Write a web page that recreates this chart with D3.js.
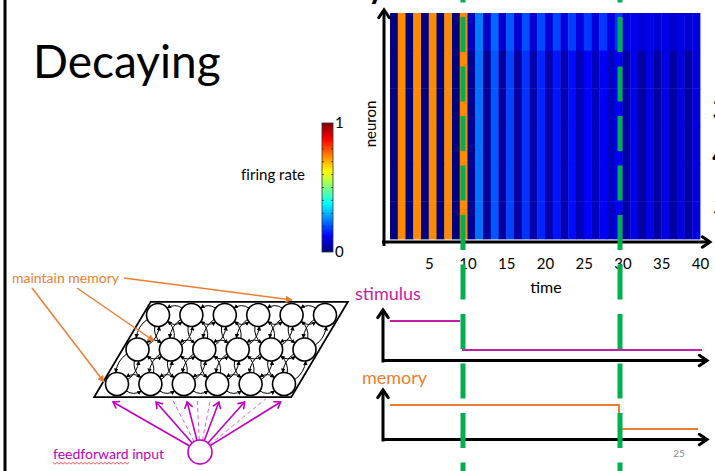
<!DOCTYPE html>
<html>
<head>
<meta charset="utf-8">
<script src="https://cdn.jsdelivr.net/npm/d3@7/dist/d3.min.js"></script>
<style>
  body { margin: 0; background: #fff; overflow: hidden; }
  svg { display: block; }
  text { font-family: Lato, "Open Sans", sans-serif; }
</style>
</head>
<body>
<svg id="chart"></svg>
<script>
// firing rate per time step (1..40)
const topNeuron = [
    0, 0.74, 0, 0.74, 0, 0.74, 0, 0.74, 0, 0.74,
    0.06, 0.245, 0.07, 0.225, 0.075, 0.21, 0.08, 0.2, 0.085, 0.195,
    0.085, 0.19, 0.09, 0.185, 0.09, 0.18, 0.09, 0.18, 0.095, 0.175,
    0.09, 0.11, 0.085, 0.105, 0.085, 0.1, 0.08, 0.1, 0.08, 0.095
];
const otherNeurons = [
    0, 0.74, 0, 0.74, 0, 0.74, 0, 0.74, 0, 0.74,
    0.02, 0.235, 0.025, 0.21, 0.03, 0.19, 0.035, 0.175, 0.04, 0.16,
    0.045, 0.145, 0.05, 0.135, 0.055, 0.125, 0.06, 0.12, 0.065, 0.115,
    0.035, 0.105, 0.035, 0.1, 0.035, 0.1, 0.035, 0.095, 0.035, 0.095
];
const neuronRows = [topNeuron, otherNeurons, otherNeurons, otherNeurons, otherNeurons, otherNeurons];
const timeTicks = [5, 10, 15, 20, 25, 30, 35, 40];
const colorbarLabels = [0, 1];
const colorbarTicks = [0.1, 0.2, 0.3, 0.4, 0.5, 0.6, 0.7, 0.8, 0.9];
const markerTimes = [9.42, 29.68];

// step traces under the heatmap
const stimulusHigh = [[0, 1], [9.03, 1]];
const stimulusLow = [[9.3, 0], [40.26, 0]];
const memoryTrace = [[0, 1], [29.55, 1], [29.55, 0], [39.75, 0]];

// network sketch: 3 rows x 6 cells, feedforward targets along the bottom edge
const netColumns = [0, 1, 2, 3, 4, 5];
const netRows = [0, 1, 2];
const feedSolid = [-0.12, 1.17, 2.1, 3.05, 3.82, 4.9];
const feedDashed = [1.65, 2.4, 2.8, 4.45];

// jet colormap
const jetStops = [0, 0.125, 0.375, 0.625, 0.875, 1];
const jetColors = ["#00007f", "#0000ff", "#00ffff", "#ffff00", "#ff0000", "#7f0000"];
const jet = d3.scaleLinear().domain(jetStops).range(jetColors).clamp(true);

const svg = d3.select("#chart")
    .attr("width", 715)
    .attr("height", 471);

const defs = svg.append("defs");

function openArrow(id, color, size, width) {
    defs.append("marker")
        .attr("id", id)
        .attr("markerUnits", "userSpaceOnUse")
        .attr("viewBox", `0 0 ${size * 2} ${size * 2}`)
        .attr("markerWidth", size * 2)
        .attr("markerHeight", size * 2)
        .attr("refX", size * 1.6)
        .attr("refY", size)
        .attr("orient", "auto")
        .append("path")
        .attr("d", `M${size * 0.5},${size * 0.25} L${size * 1.6},${size} L${size * 0.5},${size * 1.75}`)
        .attr("fill", "none")
        .attr("stroke", color)
        .attr("stroke-width", width)
        .attr("stroke-linecap", "round")
        .attr("stroke-linejoin", "miter");
}

function filledArrow(id, color, size) {
    defs.append("marker")
        .attr("id", id)
        .attr("markerUnits", "userSpaceOnUse")
        .attr("viewBox", "0 0 10 10")
        .attr("markerWidth", size)
        .attr("markerHeight", size)
        .attr("refX", 9)
        .attr("refY", 5)
        .attr("orient", "auto")
        .append("path")
        .attr("d", "M0,0 L10,5 L0,10 z")
        .attr("fill", color);
}

openArrow("axisArrow", "#000", 7, 3);
openArrow("pinkArrow", "#c000c0", 5, 1.6);
filledArrow("orangeArrow", "#ed7d31", 7);
filledArrow("smallArrow", "#000", 4.5);

// slide border on the left
svg.append("line")
    .attr("x1", 5).attr("x2", 5)
    .attr("y1", 0).attr("y2", 471)
    .attr("stroke", "#000")
    .attr("stroke-width", 3);

// clipped title above and slide text
svg.append("text")
    .attr("x", 366).attr("y", -4)
    .attr("font-size", 44)
    .text("y");

svg.append("text")
    .attr("x", 33).attr("y", 78)
    .attr("font-size", 46)
    .attr("fill", "#000")
    .text("Decaying");

// ---------------- heatmap ----------------
const x = d3.scaleLinear().domain([0, 40]).range([390, 700]);
const y = d3.scaleBand().domain(d3.range(neuronRows.length)).range([13, 239]);

const rows = svg.append("g")
    .selectAll("g")
    .data(neuronRows)
    .enter()
    .append("g")
    .attr("transform", (d, i) => `translate(0,${y(i)})`);

rows.selectAll("rect")
    .data(d => d)
    .enter()
    .append("rect")
    .attr("x", (d, k) => x(k))
    .attr("y", 0)
    .attr("width", (d, k) => x(k + 1) - x(k) + 0.4)
    .attr("height", y.bandwidth() + 0.4)
    .attr("fill", d => jet(d));

// axes with arrow heads
svg.append("line")
    .attr("x1", 384).attr("y1", 246)
    .attr("x2", 384).attr("y2", 10)
    .attr("stroke", "#000").attr("stroke-width", 3)
    .attr("marker-end", "url(#axisArrow)");

svg.append("line")
    .attr("x1", 382).attr("y1", 242)
    .attr("x2", 710).attr("y2", 242)
    .attr("stroke", "#000").attr("stroke-width", 3)
    .attr("marker-end", "url(#axisArrow)");

const xAxis = d3.axisBottom(x).tickValues(timeTicks).tickSize(0).tickPadding(3);
const xAxisG = svg.append("g")
    .attr("transform", "translate(0,255)")
    .call(xAxis);
xAxisG.select(".domain").remove();
xAxisG.selectAll("text")
    .attr("font-size", 15)
    .attr("font-family", "Lato, sans-serif")
    .attr("fill", "#000");

svg.append("text")
    .attr("x", 546).attr("y", 293)
    .attr("text-anchor", "middle")
    .attr("font-size", 16)
    .text("time");

svg.append("text")
    .attr("transform", "translate(376,124) rotate(-90)")
    .attr("text-anchor", "middle")
    .attr("font-size", 15)
    .text("neuron");

// ---------------- colorbar ----------------
const cy = d3.scaleLinear().domain([0, 1]).range([252, 123]);

const grad = defs.append("linearGradient")
    .attr("id", "jetGrad")
    .attr("x1", 0).attr("y1", 1)
    .attr("x2", 0).attr("y2", 0);
grad.selectAll("stop")
    .data(jetStops)
    .enter()
    .append("stop")
    .attr("offset", d => d)
    .attr("stop-color", d => jet(d));

svg.append("rect")
    .attr("x", 322).attr("y", cy(1))
    .attr("width", 11).attr("height", cy(0) - cy(1))
    .attr("fill", "url(#jetGrad)")
    .attr("stroke", "#333")
    .attr("stroke-width", 0.8);

svg.append("g")
    .selectAll("path")
    .data(colorbarTicks)
    .enter()
    .append("path")
    .attr("d", d => `M322,${cy(d)} h2 M333,${cy(d)} h-2`)
    .attr("stroke", "#333")
    .attr("stroke-width", 0.8);

svg.append("g")
    .selectAll("text")
    .data(colorbarLabels)
    .enter()
    .append("text")
    .attr("x", 335)
    .attr("y", d => cy(d) + 5)
    .attr("font-size", 15)
    .text(d => d);

svg.append("text")
    .attr("x", 305).attr("y", 180)
    .attr("text-anchor", "end")
    .attr("font-size", 15)
    .style("font-variant-ligatures", "none")
    .text("firing rate");

// ---------------- stimulus / memory traces ----------------
const sY = d3.scaleLinear().domain([0, 1]).range([350, 321]);
const mY = d3.scaleLinear().domain([0, 1]).range([429, 405]);

function panelAxes(baseY, topY) {
    svg.append("line")
        .attr("x1", 383).attr("y1", baseY + 2)
        .attr("x2", 383).attr("y2", topY)
        .attr("stroke", "#000").attr("stroke-width", 3)
        .attr("marker-end", "url(#axisArrow)");
    svg.append("line")
        .attr("x1", 382).attr("y1", baseY)
        .attr("x2", 707).attr("y2", baseY)
        .attr("stroke", "#000").attr("stroke-width", 3)
        .attr("marker-end", "url(#axisArrow)");
}
panelAxes(360.5, 310);
panelAxes(439.5, 390);

const sLine = d3.line().x(d => x(d[0])).y(d => sY(d[1]));
const mLine = d3.line().x(d => x(d[0])).y(d => mY(d[1]));

[stimulusHigh, stimulusLow].forEach(seg => {
    svg.append("path")
        .datum(seg)
        .attr("d", sLine)
        .attr("fill", "none")
        .attr("stroke", "#c41ea6")
        .attr("stroke-width", 2);
});

svg.append("path")
    .datum(memoryTrace)
    .attr("d", mLine)
    .attr("fill", "none")
    .attr("stroke", "#ed7d31")
    .attr("stroke-width", 2);

svg.append("text")
    .attr("x", 355).attr("y", 300)
    .attr("font-size", 18)
    .attr("fill", "#c41ea6")
    .text("stimulus");

svg.append("text")
    .attr("x", 362).attr("y", 384)
    .attr("font-size", 18)
    .attr("fill", "#ed7d31")
    .text("memory");

svg.append("text")
    .attr("x", 679).attr("y", 457)
    .attr("text-anchor", "middle")
    .attr("font-size", 10)
    .attr("fill", "#8c8c8c")
    .text("25");

// clipped text on the right edge of the slide
svg.append("g")
    .selectAll("text")
    .data(["3", "4", "5"])
    .enter()
    .append("text")
    .attr("x", 712)
    .attr("y", (d, i) => [121, 166, 215][i])
    .attr("font-size", 32)
    .text(d => d);

// ---------------- network sketch ----------------
const colX = d3.scaleLinear().domain([0, 5]).range([158, 325]);
const rowY = d3.scaleLinear().domain([0, 2]).range([315, 384]);
const rowShift = d3.scaleLinear().domain([0, 2]).range([0, -41]);
const R = 11.5;
const node = (i, r) => [colX(i) + rowShift(r), rowY(r)];

const net = svg.append("g");

const frame = [node(-0.45, -0.38), node(5.45, -0.38), node(5.45, 2.38), node(-0.45, 2.38)];
net.append("path")
    .attr("d", d3.line()(frame) + "Z")
    .attr("fill", "none")
    .attr("stroke", "#000")
    .attr("stroke-width", 1.8);

const cells = [];
netRows.forEach(r => netColumns.forEach(i => cells.push({ i, r })));

// recurrent arrows between neighbouring cells
const links = [];
cells.forEach(c => {
    if (c.i < 5) links.push([c, { i: c.i + 1, r: c.r }]);
    if (c.r < 2) {
        links.push([c, { i: c.i, r: c.r + 1 }]);
        if (c.i < 5) links.push([c, { i: c.i + 1, r: c.r + 1 }]);
    }
});

function curved(a, b) {
    const dx = b[0] - a[0], dy = b[1] - a[1];
    const len = Math.hypot(dx, dy);
    const ux = dx / len, uy = dy / len;
    const nx = -uy, ny = ux;
    const s = [a[0] + R * (0.8 * ux + 0.6 * nx), a[1] + R * (0.8 * uy + 0.6 * ny)];
    const e = [b[0] + R * (-0.8 * ux + 0.6 * nx), b[1] + R * (-0.8 * uy + 0.6 * ny)];
    const c = [(s[0] + e[0]) / 2 + 5 * nx, (s[1] + e[1]) / 2 + 5 * ny];
    return `M${s[0]},${s[1]} Q${c[0]},${c[1]} ${e[0]},${e[1]}`;
}

links.forEach(([p, q]) => {
    const a = node(p.i, p.r), b = node(q.i, q.r);
    [[a, b], [b, a]].forEach(([u, v]) => {
        net.append("path")
            .attr("d", curved(u, v))
            .attr("fill", "none")
            .attr("stroke", "#000")
            .attr("stroke-width", 1)
            .attr("marker-end", "url(#smallArrow)");
    });
});

net.selectAll("circle")
    .data(cells)
    .enter()
    .append("circle")
    .attr("cx", d => node(d.i, d.r)[0])
    .attr("cy", d => node(d.i, d.r)[1])
    .attr("r", R)
    .attr("fill", "#fff")
    .attr("stroke", "#000")
    .attr("stroke-width", 1.6);

// feedforward input unit
const feedUnit = [200, 452];
const feedR = 12;
const bottomEdge = rowY(2) + 18;

function fromUnit(t) {
    const tx = node(t, 2)[0];
    const dx = tx - feedUnit[0], dy = bottomEdge - feedUnit[1];
    const len = Math.hypot(dx, dy);
    return [[feedUnit[0] + feedR * dx / len, feedUnit[1] + feedR * dy / len], [tx, bottomEdge]];
}

feedDashed.forEach(t => {
    const [s, e] = fromUnit(t);
    net.append("line")
        .attr("x1", s[0]).attr("y1", s[1])
        .attr("x2", e[0]).attr("y2", e[1] - 3)
        .attr("stroke", "#d966d9")
        .attr("stroke-width", 1)
        .attr("stroke-dasharray", "4 3");
});

feedSolid.forEach(t => {
    const [s, e] = fromUnit(t);
    net.append("line")
        .attr("x1", s[0]).attr("y1", s[1])
        .attr("x2", e[0]).attr("y2", e[1])
        .attr("stroke", "#c000c0")
        .attr("stroke-width", 1.6)
        .attr("marker-end", "url(#pinkArrow)");
});

net.append("circle")
    .attr("cx", feedUnit[0]).attr("cy", feedUnit[1])
    .attr("r", feedR)
    .attr("fill", "#fff")
    .attr("stroke", "#c000c0")
    .attr("stroke-width", 1.6);

net.append("text")
    .attr("x", 53).attr("y", 459)
    .attr("font-size", 14)
    .attr("fill", "#c000c0")
    .text("feedforward input");

// spell-check squiggle under "feedforward"
const squiggle = d3.range(53, 131, 2).map((px, k) => [px, 463 + (k % 2 ? 1.2 : -0.6)]);
net.append("path")
    .attr("d", d3.line()(squiggle))
    .attr("fill", "none")
    .attr("stroke", "#e03030")
    .attr("stroke-width", 0.8);

// "maintain memory" callouts
net.append("text")
    .attr("x", 12).attr("y", 283)
    .attr("font-size", 14)
    .attr("fill", "#ed7d31")
    .text("maintain memory");

const callouts = [
    [[124, 278], [292, 300]],
    [[77, 288], [154, 341]],
    [[32, 288], [104, 382]]
];
callouts.forEach(([s, e]) => {
    net.append("line")
        .attr("x1", s[0]).attr("y1", s[1])
        .attr("x2", e[0]).attr("y2", e[1])
        .attr("stroke", "#ed7d31")
        .attr("stroke-width", 1.5)
        .attr("marker-end", "url(#orangeArrow)");
});

// green dashed markers across the whole slide
svg.append("g")
    .selectAll("line")
    .data(markerTimes)
    .enter()
    .append("line")
    .attr("x1", d => x(d)).attr("x2", d => x(d))
    .attr("y1", -32.5).attr("y2", 480)
    .attr("stroke", "#00b050")
    .attr("stroke-width", 5)
    .attr("stroke-dasharray", "35 14.5");
</script>
</body>
</html>
